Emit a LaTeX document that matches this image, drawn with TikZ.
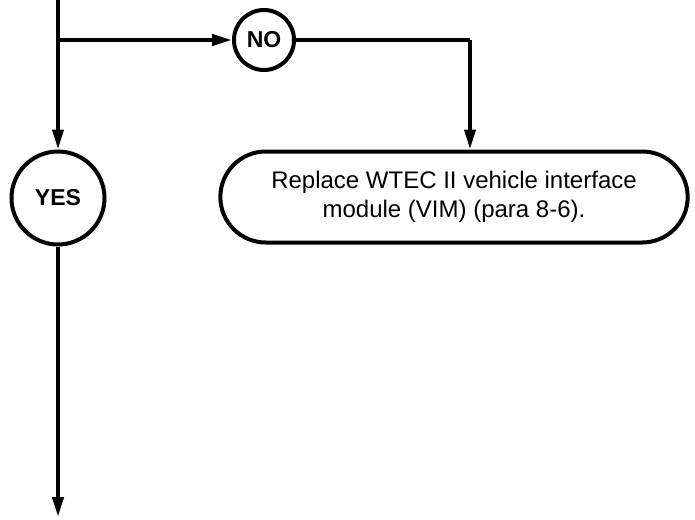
\documentclass[tikz,border=0pt]{standalone}
\usepackage{fontspec}
\setmainfont{Liberation Sans}
\usetikzlibrary{arrows.meta,shapes.misc}

\begin{document}
\begin{tikzpicture}[x=1pt, y=-1pt, line width=4pt,
    every node/.style={align=center},
    decision/.style={draw, circle, inner sep=0pt, font=\fontsize{23}{26}\selectfont\bfseries},
    action/.style={draw, rounded rectangle, minimum width=474pt, minimum height=91pt, font=\fontsize{24}{29}\selectfont},
    flow/.style={-{Triangle[length=20pt,width=11pt]}}]
    \useasboundingbox (0,0) rectangle (695,519);

    \coordinate (top) at (58,0);
    \coordinate (split) at (58,40);
    \coordinate (bottom) at (58,517);
    \node[decision, minimum size=60pt] (no) at (264,40) {NO};
    \node[decision, minimum size=93pt] (yes) at (58,198) {YES};
    \node[action] (replace) at (454,197) {Replace WTEC II vehicle interface\\module (VIM) (para 8-6).};
    \coordinate (corner) at (470,40);

    \draw (top) -- (split);
    \draw[flow] (split) -- (no);
    \draw[flow] (split) -- (yes);
    \draw (no) -- (corner);
    \draw[flow] (corner) -- (corner |- replace.north);
    \draw[flow] (yes) -- (bottom);
\end{tikzpicture}
\end{document}
